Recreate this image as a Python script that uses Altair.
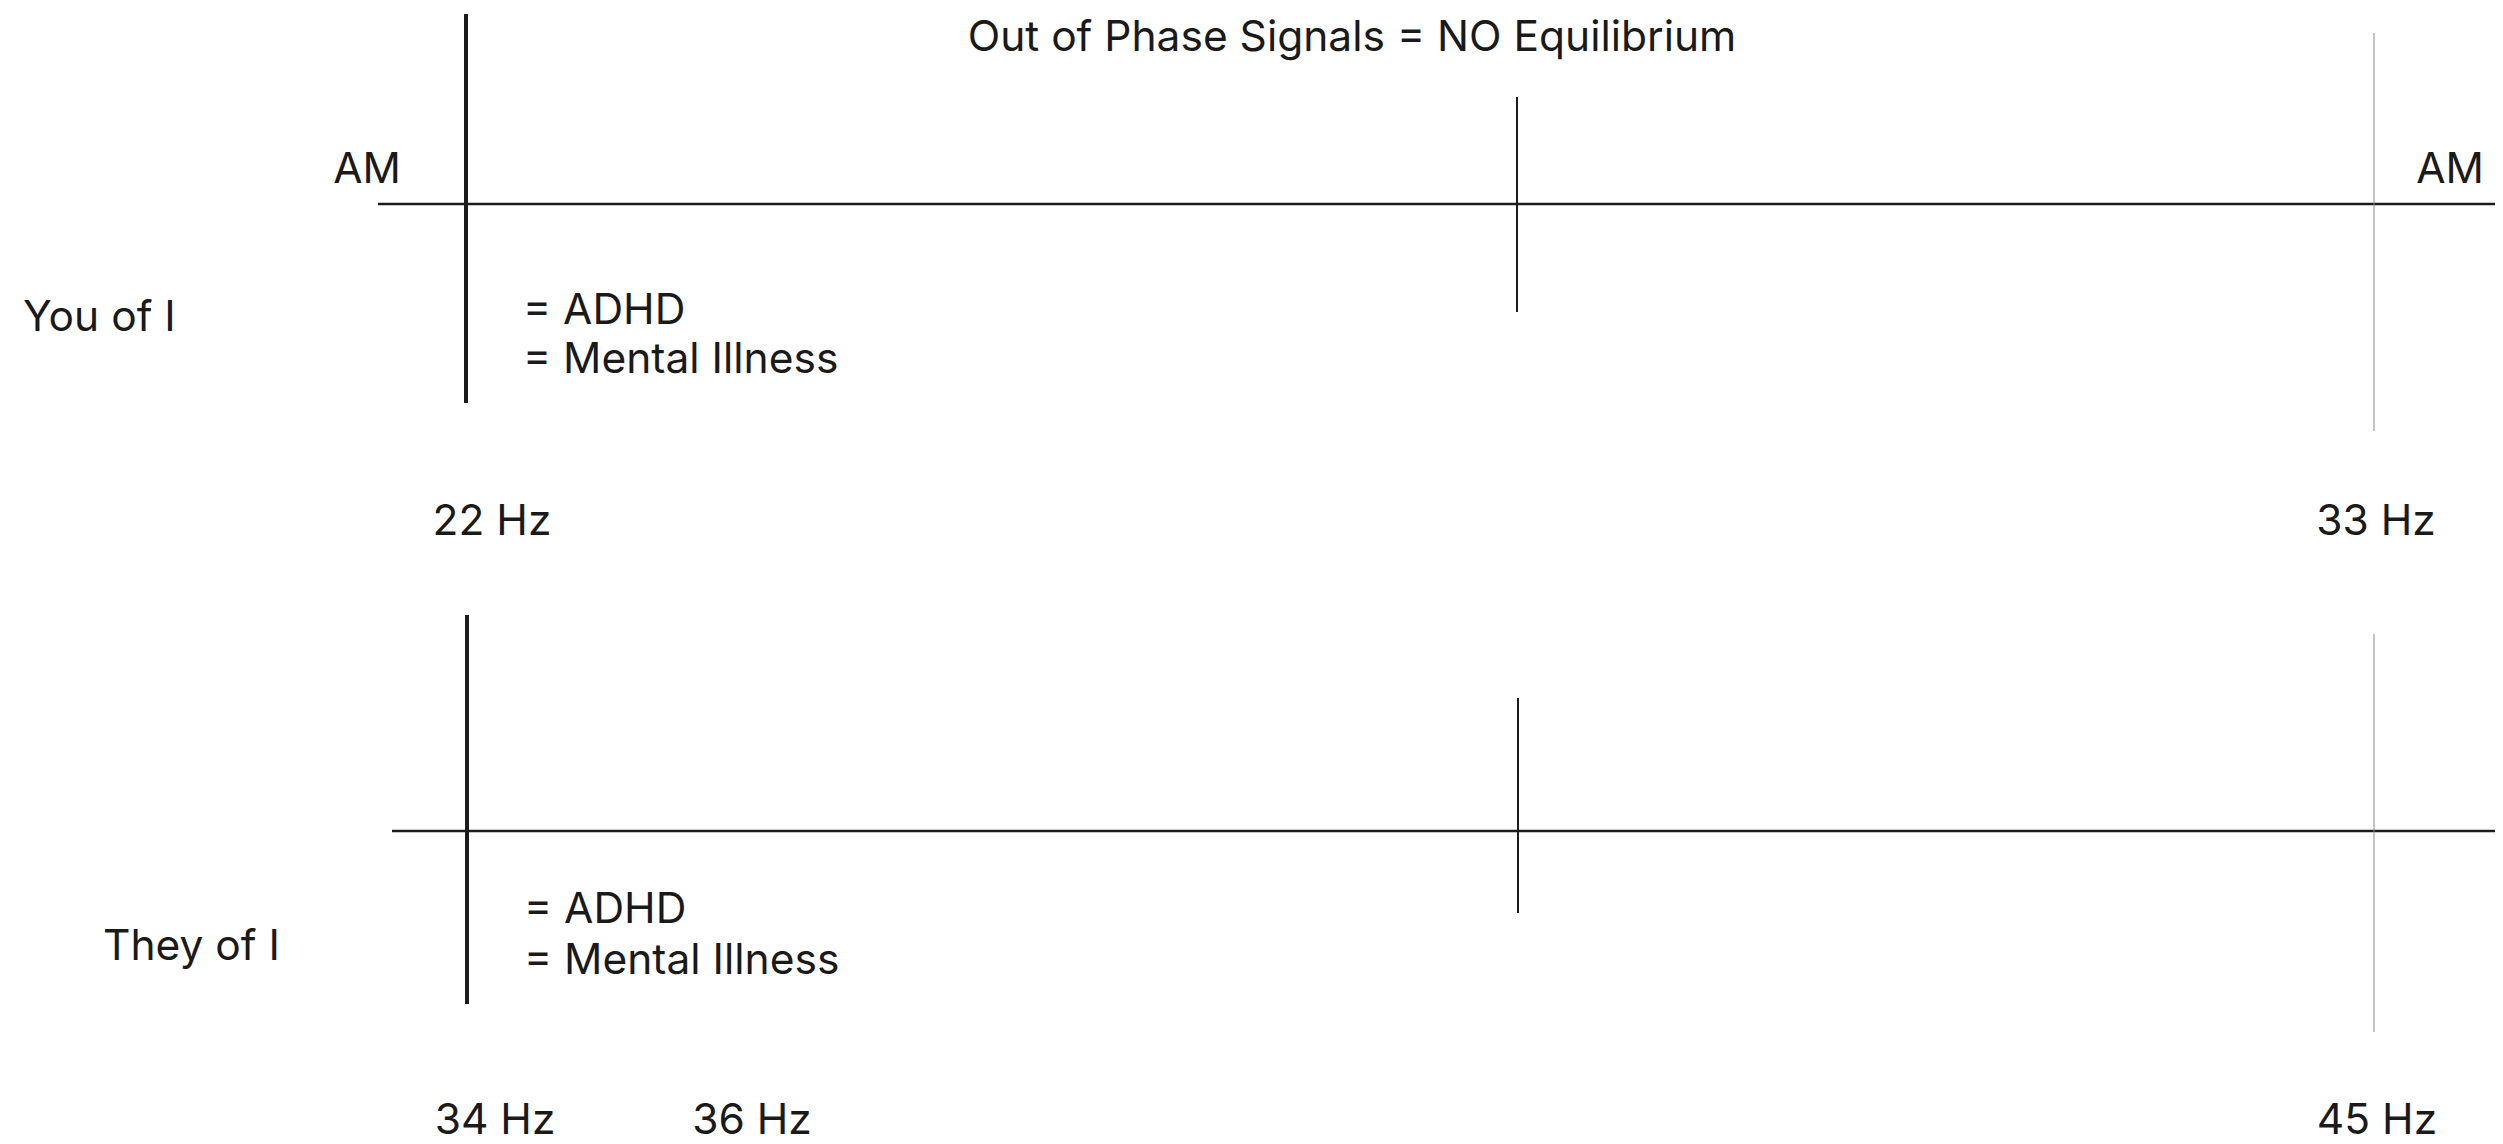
import altair as alt
import pandas as pd

W, H = 2487, 1128

# Diagram segments (diagram units: x right, y down)
seg_name = ["top_axis", "top_22", "top_mid", "top_33",
            "bot_axis", "bot_34", "bot_mid", "bot_45"]
seg_x = [370, 458, 1509, 2366, 384, 459, 1510, 2366]
seg_x2 = [2488, 458, 1509, 2366, 2487, 459, 1510, 2366]
seg_y = [196, 6, 89, 25, 823, 607, 690, 626]
seg_y2 = [196, 395, 304, 423, 823, 996, 905, 1024]
seg_w = [2.5, 4, 2, 1, 2.5, 4, 2, 1]
seg_c = ["#1c1c1c", "#1c1c1c", "#1c1c1c", "#8a8a8a",
         "#1c1c1c", "#1c1c1c", "#1c1c1c", "#8a8a8a"]

segs = pd.DataFrame({"name": seg_name, "x": seg_x, "x2": seg_x2,
                     "y": seg_y, "y2": seg_y2, "w": seg_w, "c": seg_c})

# Centered labels
c_text = ["Out of Phase Signals = NO Equilibrium", "AM", "AM",
          "22 Hz", "33 Hz", "34 Hz", "36 Hz", "45 Hz"]
c_x = [1344, 359, 2442, 484, 2368, 487, 744, 2369]
c_y = [30, 162, 162, 514, 514, 1113, 1113, 1113]

# Left-aligned labels
l_text = ["You of I", "= ADHD", "= Mental Illness",
          "They of I", "= ADHD", "= Mental Illness"]
l_x = [15, 515, 515, 95, 516, 516]
l_y = [310, 303, 352, 939, 902, 953]

ctab = pd.DataFrame({"t": c_text, "x": c_x, "y": c_y})
ltab = pd.DataFrame({"t": l_text, "x": l_x, "y": l_y})

xs = alt.Scale(domain=[0, W], nice=False, zero=False)
ys = alt.Scale(domain=[0, H], nice=False, zero=False, reverse=True)

FONT = "Inter"
FS = 42.5
TC = "#1a1a1a"

rules = alt.Chart(segs).mark_rule(strokeCap="butt").encode(
    x=alt.X("x:Q", scale=xs, axis=None),
    x2="x2:Q",
    y=alt.Y("y:Q", scale=ys, axis=None),
    y2="y2:Q",
    strokeWidth=alt.StrokeWidth("w:Q", scale=None),
    color=alt.Color("c:N", scale=None),
)

ctext = alt.Chart(ctab).mark_text(
    align="center", baseline="middle", font=FONT, fontSize=FS, color=TC
).encode(
    x=alt.X("x:Q", scale=xs, axis=None),
    y=alt.Y("y:Q", scale=ys, axis=None),
    text="t:N",
)

ltext = alt.Chart(ltab).mark_text(
    align="left", baseline="middle", font=FONT, fontSize=FS, color=TC
).encode(
    x=alt.X("x:Q", scale=xs, axis=None),
    y=alt.Y("y:Q", scale=ys, axis=None),
    text="t:N",
)

chart = alt.layer(rules, ctext, ltext).properties(
    width=W, height=H, padding=0,
    autosize=alt.AutoSizeParams(type="none"),
    background="white",
).configure_view(stroke=None)

chart.save("out.html", embed_options={"renderer": "svg", "actions": False})
